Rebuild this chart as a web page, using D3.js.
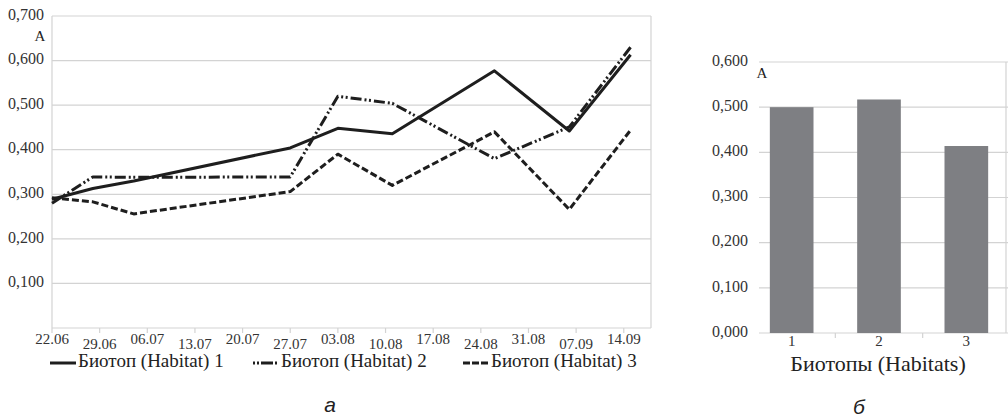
<!DOCTYPE html>
<html>
<head>
<meta charset="utf-8">
<script src="https://cdn.jsdelivr.net/npm/d3@7"></script>
<style>
  body { margin: 0; background: #fff; }
  svg { display: block; }
  text.serif { font-family: "Liberation Serif", "DejaVu Serif", serif; }
</style>
</head>
<body>
<svg id="chart" width="1008" height="419"></svg>
<script>
// line chart (а)
const pointDates = ['22.06', '28.06', '04.07', '27.07', '03.08', '11.08', '26.08', '06.09', '15.09']
const habitat1 = [0.289, 0.313, 0.330, 0.404, 0.448, 0.436, 0.577, 0.442, 0.613]
const habitat2 = [0.280, 0.339, 0.338, 0.339, 0.520, 0.504, 0.380, 0.451, 0.630]
const habitat3 = [0.292, 0.283, 0.256, 0.306, 0.390, 0.320, 0.440, 0.266, 0.444]
const dateTicks = ['22.06', '29.06', '06.07', '13.07', '20.07', '27.07', '03.08', '10.08', '17.08', '24.08', '31.08', '07.09', '14.09']
const lineYTicks = [0.1, 0.2, 0.3, 0.4, 0.5, 0.6, 0.7]
const seriesNames = ['Биотоп (Habitat) 1', 'Биотоп (Habitat) 2', 'Биотоп (Habitat) 3']

// bar chart (б)
const habitats = ['1', '2', '3']
const habitatMeans = [0.500, 0.517, 0.414]
const barYTicks = [0, 0.1, 0.2, 0.3, 0.4, 0.5, 0.6]

const svg = d3.select('#chart')
const parse = d3.timeParse('%d.%m')
const fmt = v => d3.format('.3f')(v).replace('.', ',')
const grid = '#d3d3d3'
const ink = '#1e1e1e'

// ---------- line chart ----------
let x = d3.scaleTime().domain([parse('22.06'), parse('18.09')]).range([52, 651])
let y = d3.scaleLinear().domain([0, 0.7]).range([328, 16])

let g = svg.append('g')

g.selectAll('line.grid')
.data(lineYTicks)
.enter()
.append('line')
.attr('class', 'grid')
.attr('x1', x.range()[0])
.attr('x2', x.range()[1])
.attr('y1', d => y(d))
.attr('y2', d => y(d))
.attr('stroke', grid)
.attr('stroke-width', 1.2)

// frame: left, right, bottom
g.append('line').attr('x1', 52).attr('x2', 52).attr('y1', y(0.7)).attr('y2', y(0))
.attr('stroke', grid).attr('stroke-width', 1.2)
g.append('line').attr('x1', 651).attr('x2', 651).attr('y1', y(0.7)).attr('y2', y(0))
.attr('stroke', grid).attr('stroke-width', 1.2)
g.append('line').attr('x1', 52).attr('x2', 651).attr('y1', y(0)).attr('y2', y(0))
.attr('stroke', grid).attr('stroke-width', 1.2)

g.selectAll('line.xtick')
.data(dateTicks)
.enter()
.append('line')
.attr('class', 'xtick')
.attr('x1', d => x(parse(d)))
.attr('x2', d => x(parse(d)))
.attr('y1', y(0))
.attr('y2', y(0) + 5)
.attr('stroke', grid)
.attr('stroke-width', 1.2)

g.selectAll('text.xtick')
.data(dateTicks)
.enter()
.append('text')
.attr('class', 'xtick serif')
.attr('x', d => x(parse(d)))
.attr('y', (d, i) => i % 2 ? 349 : 344)
.attr('text-anchor', 'middle')
.style('font-size', '15px')
.style('fill', '#333')
.text(d => d)

g.selectAll('text.ytick')
.data(lineYTicks)
.enter()
.append('text')
.attr('class', 'ytick serif')
.attr('x', 44)
.attr('y', d => y(d))
.attr('text-anchor', 'end')
.attr('dominant-baseline', 'middle')
.style('font-size', '16px')
.style('fill', '#333')
.text(d => fmt(d))

g.append('text').text('A')
.attr('class', 'serif')
.attr('x', 40).attr('y', 38)
.attr('text-anchor', 'middle')
.attr('dominant-baseline', 'middle')
.style('font-size', '15px')
.style('fill', '#222')

let series = [
    {name: seriesNames[0], values: habitat1, dash: null, key: '-'},
    {name: seriesNames[1], values: habitat2, dash: '11,3,2,2.5,2,3', key: '2,2,2,2,12'},
    {name: seriesNames[2], values: habitat3, dash: '7,3', key: '7,2'},
]

let line = d3.line()
.x((d, i) => x(parse(pointDates[i])))
.y(d => y(d))

g.selectAll('path.series')
.data(series)
.enter()
.append('path')
.attr('class', 'series')
.attr('d', d => line(d.values))
.attr('fill', 'none')
.attr('stroke', ink)
.attr('stroke-width', 3)
.attr('stroke-linejoin', 'round')
.attr('stroke-dasharray', d => d.dash)

// legend
let legendX = [50, 253, 463]
let legend = g.selectAll('g.legend')
.data(series)
.enter()
.append('g')
.attr('class', 'legend')
.attr('transform', (d, i) => `translate(${legendX[i]}, 363)`)

legend.append('line')
.attr('x1', 0).attr('x2', 26)
.attr('y1', 0).attr('y2', 0)
.attr('stroke', ink)
.attr('stroke-width', 3)
.attr('stroke-dasharray', d => d.dash ? d.key : null)

legend.append('text')
.attr('class', 'serif')
.attr('x', 28)
.attr('y', 0)
.attr('dominant-baseline', 'middle')
.style('font-size', '19px')
.style('fill', '#222')
.text(d => d.name)

svg.append('text').text('а')
.attr('x', 330).attr('y', 412)
.attr('text-anchor', 'middle')
.style('font-family', '"Liberation Sans", Arial, sans-serif')
.style('font-style', 'italic')
.style('font-size', '21px')
.style('fill', '#222')

// ---------- bar chart ----------
let xb = d3.scaleBand().domain(habitats).range([748, 1010]).paddingInner(0.5).paddingOuter(0.25)
let yb = d3.scaleLinear().domain([0, 0.6]).range([333, 62])

let b = svg.append('g')

b.selectAll('line.grid')
.data(barYTicks)
.enter()
.append('line')
.attr('class', 'grid')
.attr('x1', 759)
.attr('x2', 1008)
.attr('y1', d => yb(d))
.attr('y2', d => yb(d))
.attr('stroke', grid)
.attr('stroke-width', 1.2)

b.append('line').attr('x1', 1006).attr('x2', 1006).attr('y1', yb(0.6)).attr('y2', yb(0))
.attr('stroke', grid).attr('stroke-width', 1.2)

b.selectAll('line.xtick')
.data(habitats.slice(1))
.enter()
.append('line')
.attr('class', 'xtick')
.attr('x1', d => xb(d) - xb.step() * xb.paddingInner() / 2)
.attr('x2', d => xb(d) - xb.step() * xb.paddingInner() / 2)
.attr('y1', yb(0))
.attr('y2', yb(0) + 5)
.attr('stroke', grid)
.attr('stroke-width', 1.2)

b.selectAll('rect.bar')
.data(habitatMeans)
.enter()
.append('rect')
.attr('class', 'bar')
.attr('x', (d, i) => xb(habitats[i]))
.attr('y', d => yb(d))
.attr('width', xb.bandwidth())
.attr('height', d => yb(0) - yb(d))
.attr('fill', '#7e7f83')

b.selectAll('text.ytick')
.data(barYTicks)
.enter()
.append('text')
.attr('class', 'ytick serif')
.attr('x', 748)
.attr('y', d => yb(d))
.attr('text-anchor', 'end')
.attr('dominant-baseline', 'middle')
.style('font-size', '16px')
.style('fill', '#333')
.text(d => fmt(d))

b.selectAll('text.xtick')
.data(habitats)
.enter()
.append('text')
.attr('class', 'xtick serif')
.attr('x', d => xb(d) + xb.bandwidth() / 2)
.attr('y', 343)
.attr('text-anchor', 'middle')
.attr('dominant-baseline', 'middle')
.style('font-size', '15px')
.style('fill', '#333')
.text(d => d)

b.append('text').text('Биотопы (Habitats)')
.attr('class', 'serif')
.attr('x', 878).attr('y', 366)
.attr('text-anchor', 'middle')
.attr('dominant-baseline', 'middle')
.style('font-size', '22px')
.style('fill', '#222')

b.append('text').text('A')
.attr('class', 'serif')
.attr('x', 762).attr('y', 75)
.attr('text-anchor', 'middle')
.attr('dominant-baseline', 'middle')
.style('font-size', '15px')
.style('fill', '#222')

svg.append('text').text('б')
.attr('x', 859).attr('y', 414)
.attr('text-anchor', 'middle')
.style('font-family', '"Liberation Sans", Arial, sans-serif')
.style('font-style', 'italic')
.style('font-size', '21px')
.style('fill', '#222')
</script>
</body>
</html>
